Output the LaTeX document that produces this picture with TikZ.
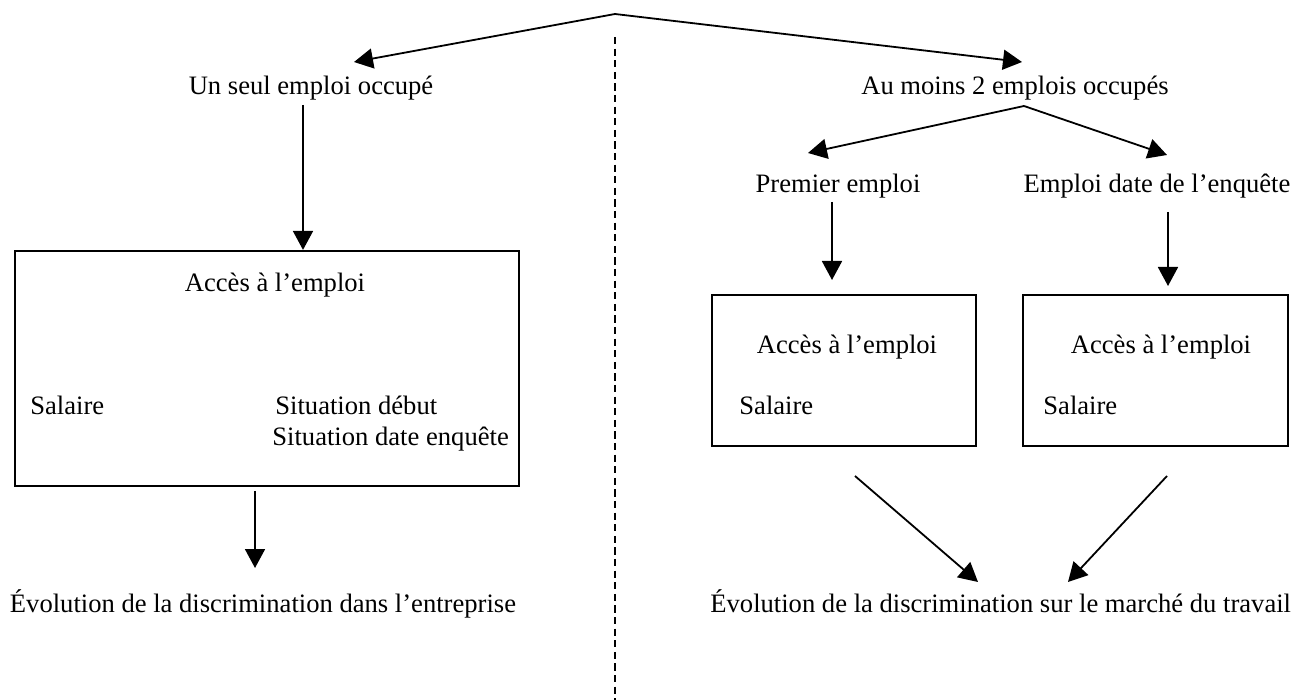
\documentclass[tikz,border=0pt]{standalone}
\usepackage{fontspec}
\setmainfont{Liberation Serif}
\usetikzlibrary{arrows.meta}
\tikzset{
  arr/.style={line width=0.9pt,-{Triangle[length=9.5pt,width=10pt]}},
  plain/.style={line width=0.9pt},
  lbl/.style={inner sep=0pt,font=\fontsize{13.3pt}{16pt}\selectfont},
  boxn/.style={draw,line width=1.1pt,inner sep=0pt},
  sep/.style={line width=0.7pt,dash pattern=on 3.6pt off 2.2pt}
}
\begin{document}
\begin{tikzpicture}[x=0.5pt,y=-0.5pt]
\useasboundingbox (0,0) rectangle (1308,700);
% separator
\coordinate (septop) at (615,37);
\coordinate (sepbot) at (615,700);
\draw[sep] (septop) -- (sepbot);
% top split
\coordinate (apex) at (615,14);
\coordinate (tipL) at (354,62);
\coordinate (tipR) at (1022,62);
\draw[arr] (apex) -- (tipL);
\draw[arr] (apex) -- (tipR);
% left branch
\node[lbl,anchor=base] (un) at (311,95) {Un seul emploi occupé};
\node[boxn,minimum width=252pt,minimum height=117.5pt] (boxA) at (267,368.5) {};
\coordinate (unS) at (303,105);
\draw[arr] (unS) -- (unS |- boxA.north);
\node[lbl,anchor=base] (accA) at (275,292) {Accès à l’emploi};
\node[lbl,anchor=base west] (salA) at (30,415) {Salaire};
\node[lbl,anchor=base west] (sitD) at (275,415) {Situation début};
\node[lbl,anchor=base west] (sitE) at (272,445) {Situation date enquête};
\coordinate (boxAS) at (255,491);
\coordinate (evAT) at (255,568);
\draw[arr] (boxAS) -- (evAT);
\node[lbl,anchor=base] (evA) at (263,612) {Évolution de la discrimination dans l’entreprise};
% right branch
\node[lbl,anchor=base] (au) at (1015,95) {Au moins 2 emplois occupés};
\coordinate (split) at (1024,106);
\coordinate (tipP) at (808,153);
\coordinate (tipE) at (1167,155);
\draw[arr] (split) -- (tipP);
\draw[arr] (split) -- (tipE);
\node[lbl,anchor=base] (prem) at (838,193) {Premier emploi};
\node[lbl,anchor=base] (empd) at (1157,193) {Emploi date de l’enquête};
\node[boxn,minimum width=132pt,minimum height=75.5pt] (boxB) at (844,370.5) {};
\node[boxn,minimum width=132.5pt,minimum height=75.5pt] (boxC) at (1155.5,370.5) {};
\coordinate (premS) at (832,202);
\coordinate (premT) at (832,280);
\coordinate (empdS) at (1168,212);
\coordinate (empdT) at (1168,286);
\draw[arr] (premS) -- (premT);
\draw[arr] (empdS) -- (empdT);
\node[lbl,anchor=base] (accB) at (847,354) {Accès à l’emploi};
\node[lbl,anchor=base west] (salB) at (739,415) {Salaire};
\node[lbl,anchor=base] (accC) at (1161,354) {Accès à l’emploi};
\node[lbl,anchor=base west] (salC) at (1043,415) {Salaire};
\coordinate (dB) at (855,476);
\coordinate (dC) at (1167,476);
\coordinate (evBL) at (978,582);
\coordinate (evBR) at (1068,582);
\draw[arr] (dB) -- (evBL);
\draw[arr] (dC) -- (evBR);
\node[lbl,anchor=base west] (evB) at (710,612) {Évolution de la discrimination sur le marché du travail};
\end{tikzpicture}
\end{document}
